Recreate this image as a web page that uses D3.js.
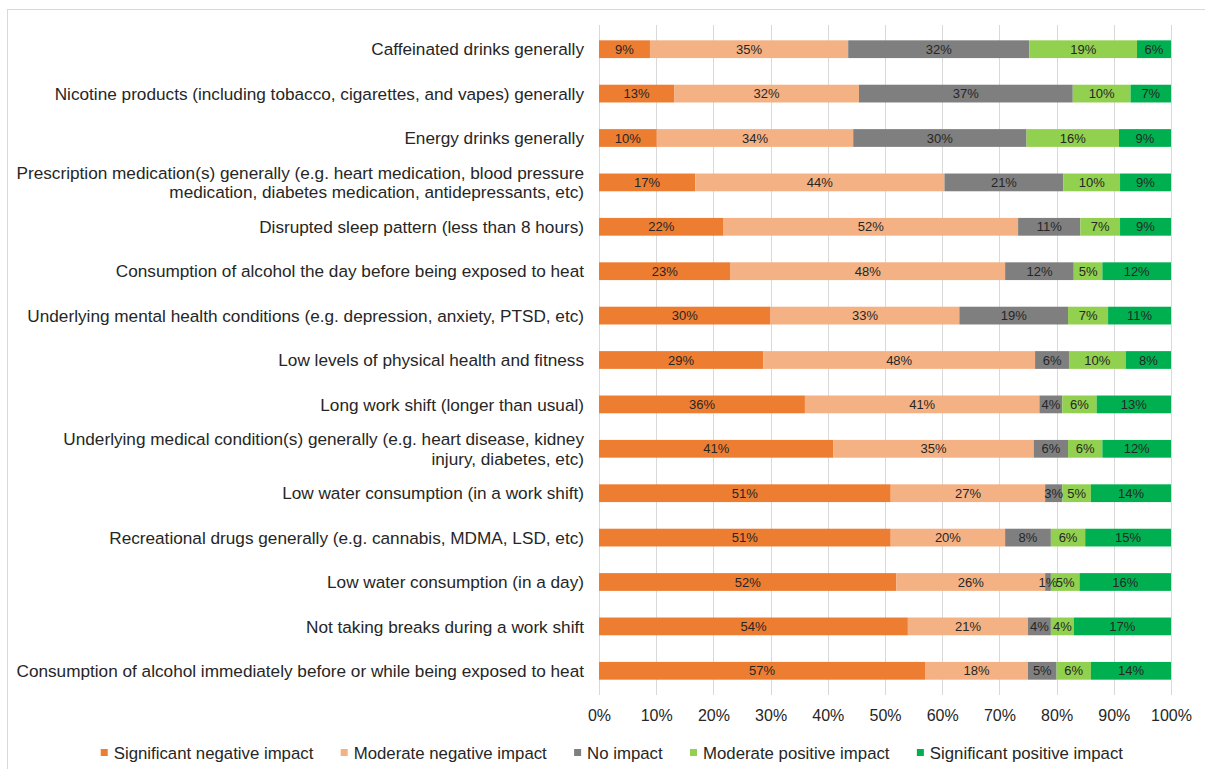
<!DOCTYPE html>
<html>
<head>
<meta charset="utf-8">
<script src="https://cdn.jsdelivr.net/npm/d3@7"></script>
<style>
  html, body { margin: 0; padding: 0; background: #fff; }
  svg { display: block; font-family: "Liberation Sans", Arial, sans-serif; }
</style>
</head>
<body>
<svg id="chart" width="1205" height="769"></svg>
<script>
// Factors and the share of responses in each impact band (percent)
const categories = [
  "Caffeinated drinks generally",
  "Nicotine products (including tobacco, cigarettes, and vapes) generally",
  "Energy drinks generally",
  "Prescription medication(s) generally (e.g. heart medication, blood pressure|medication, diabetes medication, antidepressants, etc)",
  "Disrupted sleep pattern (less than 8 hours)",
  "Consumption of alcohol the day before being exposed to heat",
  "Underlying mental health conditions (e.g. depression, anxiety, PTSD, etc)",
  "Low levels of physical health and fitness",
  "Long work shift (longer than usual)",
  "Underlying medical condition(s) generally (e.g. heart disease, kidney|injury, diabetes, etc)",
  "Low water consumption (in a work shift)",
  "Recreational drugs generally (e.g. cannabis, MDMA, LSD, etc)",
  "Low water consumption (in a day)",
  "Not taking breaks during a work shift",
  "Consumption of alcohol immediately before or while being exposed to heat"
];
const significantNegative = [9, 13, 10, 17, 22, 23, 30, 29, 36, 41, 51, 51, 52, 54, 57];
const moderateNegative    = [35, 32, 34, 44, 52, 48, 33, 48, 41, 35, 27, 20, 26, 21, 18];
const noImpact            = [32, 37, 30, 21, 11, 12, 19, 6, 4, 6, 3, 8, 1, 4, 5];
const moderatePositive    = [19, 10, 16, 10, 7, 5, 7, 10, 6, 6, 5, 6, 5, 4, 6];
const significantPositive = [6, 7, 9, 9, 9, 12, 11, 8, 13, 12, 14, 15, 16, 17, 14];

const seriesNames = [
  "Significant negative impact",
  "Moderate negative impact",
  "No impact",
  "Moderate positive impact",
  "Significant positive impact"
];
const seriesValues = [significantNegative, moderateNegative, noImpact, moderatePositive, significantPositive];
const tickValues = [0, 0.1, 0.2, 0.3, 0.4, 0.5, 0.6, 0.7, 0.8, 0.9, 1];

const colors = ["#ED7D31", "#F4B183", "#7F7F7F", "#92D050", "#00B050"];

const rows = categories.map((c, i) => {
  const r = { category: c };
  seriesNames.forEach((s, k) => { r[s] = seriesValues[k][i]; });
  return r;
});

const svg = d3.select("#chart");
const W = 1205, H = 769;

// outer frame
svg.append("rect")
  .attr("x", 7.5).attr("y", 9.5)
  .attr("width", W + 10).attr("height", H + 10)
  .attr("fill", "none").attr("stroke", "#D9D9D9").attr("stroke-width", 1);

const plot = { left: 599, right: 1171, top: 27, bottom: 693 };

const x = d3.scaleLinear().domain([0, 1]).range([plot.left, plot.right]);
const y = d3.scaleBand().domain(categories).range([plot.top, plot.bottom]).paddingInner(0.6).paddingOuter(0.3);

// gridlines
svg.append("g").selectAll("line").data(tickValues).join("line")
  .attr("x1", d => Math.round(x(d)) + 0.5).attr("x2", d => Math.round(x(d)) + 0.5)
  .attr("y1", 25).attr("y2", 695)
  .attr("stroke", "#D9D9D9").attr("stroke-width", 1);

// stacked bars, each row normalised to 100%
const stack = d3.stack().keys(seriesNames).offset(d3.stackOffsetExpand);
const layers = stack(rows);

const layerG = svg.append("g").selectAll("g").data(layers).join("g")
  .attr("fill", (d, i) => colors[i]);

layerG.selectAll("rect").data(d => d).join("rect")
  .attr("x", d => x(d[0]))
  .attr("width", d => x(d[1]) - x(d[0]))
  .attr("y", d => y(d.data.category))
  .attr("height", y.bandwidth());

// value labels
const labelG = svg.append("g");
layers.forEach(layer => {
  labelG.selectAll(null).data(layer).join("text")
    .attr("x", d => (x(d[0]) + x(d[1])) / 2)
    .attr("y", d => y(d.data.category) + y.bandwidth() / 2)
    .attr("dy", "0.36em")
    .attr("text-anchor", "middle")
    .attr("font-size", 13)
    .attr("fill", "#262626")
    .text(d => d.data[layer.key] + "%");
});

// category labels
const catG = svg.append("g");
categories.forEach(c => {
  const lines = c.split("|");
  const cy = y(c) + y.bandwidth() / 2;
  const lh = 19.5;
  const t = catG.append("text")
    .attr("text-anchor", "end")
    .attr("font-size", 17.2)
    .attr("fill", "#262626");
  lines.forEach((ln, i) => {
    t.append("tspan")
      .attr("x", 584)
      .attr("y", cy + (i - (lines.length - 1) / 2) * lh)
      .attr("dy", "0.36em")
      .text(ln);
  });
});

// x axis
const xAxis = d3.axisBottom(x).tickValues(tickValues).tickFormat(d3.format(".0%")).tickSize(0).tickPadding(0);
const axG = svg.append("g").attr("transform", "translate(0,710)").call(xAxis);
axG.select(".domain").remove();
axG.selectAll("text").attr("font-size", 16).attr("fill", "#262626")
  .attr("font-family", "'Liberation Sans', Arial, sans-serif");

// legend
const legG = svg.append("g");
const legY = 753;
const items = legG.selectAll("g").data(seriesNames).join("g");
items.append("rect").attr("width", 7).attr("height", 7).attr("y", legY - 4)
  .attr("fill", (d, i) => colors[i]);
items.append("text").attr("x", 13).attr("y", legY).attr("dy", "0.36em")
  .attr("font-size", 16.8).attr("fill", "#262626").text(d => d);
let cursor = 0;
const offsets = [];
items.each(function() {
  const w = this.getBBox().width;
  offsets.push(cursor);
  cursor += w + 27;
});
const total = cursor - 27;
const startX = 612 - total / 2;
items.attr("transform", (d, i) => `translate(${startX + offsets[i]},0)`);
</script>
</body>
</html>
